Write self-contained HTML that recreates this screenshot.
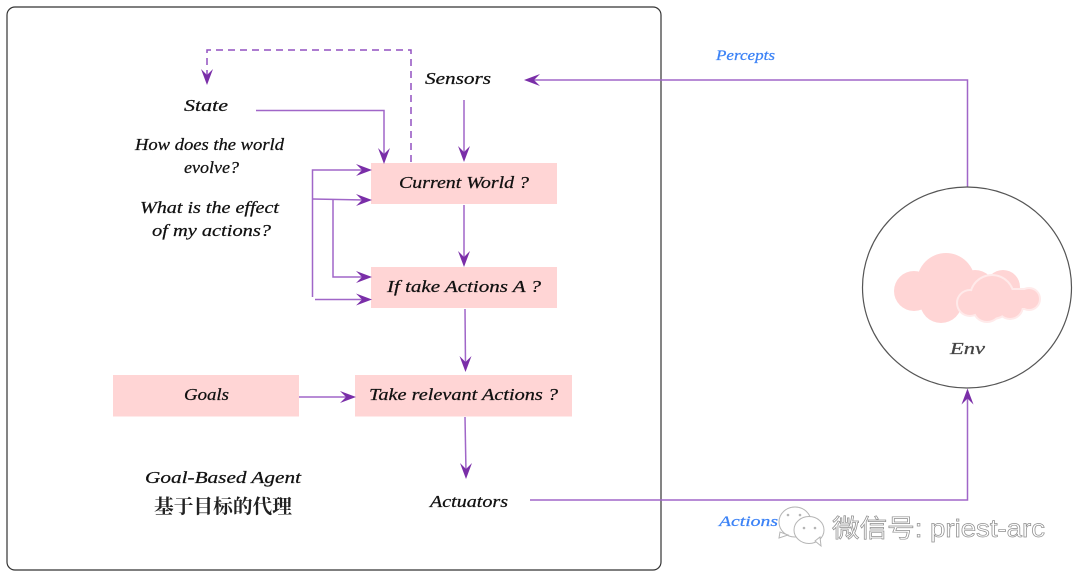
<!DOCTYPE html>
<html>
<head>
<meta charset="utf-8">
<style>
html,body{margin:0;padding:0;background:#fff;width:1080px;height:578px;overflow:hidden}
svg{display:block}
text{font-family:"Liberation Serif","Noto Serif CJK SC",serif;font-style:italic;fill:#111;stroke:#111;stroke-width:0.250;font-size:17px}
.l{fill:none;stroke:#a066c8;stroke-width:1.500}
.h{fill:#7a2ea8;stroke:none}
</style>
</head>
<body>
<svg width="1080" height="578" viewBox="0 0 1080 578" xmlns="http://www.w3.org/2000/svg">
<defs>
<path id="ah" d="M0 0L-16 -6L-10 0L-16 6Z"/>
</defs>

<rect x="7" y="7" width="654" height="563" rx="8" ry="8" fill="#fff" stroke="#333" stroke-width="1.200"/>

<rect x="371" y="163" width="186" height="41" fill="#ffd5d5"/>
<rect x="371" y="267" width="186" height="41" fill="#ffd5d5"/>
<rect x="355" y="375" width="217" height="41.500" fill="#ffd5d5"/>
<rect x="113" y="375" width="186" height="41.500" fill="#ffd5d5"/>

<path class="l" stroke="#8f45bf" style="stroke:#9250c0" stroke-dasharray="7 5" d="M411 162V50H207V78"/>
<path class="l" d="M256 110.500H384V156"/>
<path class="l" d="M464 100V155"/>
<path class="l" d="M312.500 297V170H365"/>
<path class="l" d="M312.500 199L365 200"/>
<path class="l" d="M333 199V277H365"/>
<path class="l" d="M315 299.500H365"/>
<path class="l" d="M464 205V260"/>
<path class="l" d="M465 309L465.500 365"/>
<path class="l" d="M465 417L466 472"/>
<path class="l" d="M299 397H349"/>
<path class="l" d="M530 500H967.500V396"/>
<path class="l" d="M967.500 187V80H532"/>

<use href="#ah" class="h" transform="translate(207,85) rotate(90)"/>
<use href="#ah" class="h" transform="translate(384,164) rotate(90)"/>
<use href="#ah" class="h" transform="translate(464,162) rotate(90)"/>
<use href="#ah" class="h" transform="translate(372,170)"/>
<use href="#ah" class="h" transform="translate(372,200)"/>
<use href="#ah" class="h" transform="translate(372,277)"/>
<use href="#ah" class="h" transform="translate(372,299.500)"/>
<use href="#ah" class="h" transform="translate(464,267) rotate(90)"/>
<use href="#ah" class="h" transform="translate(465.500,372) rotate(90)"/>
<use href="#ah" class="h" transform="translate(466,479) rotate(90)"/>
<use href="#ah" class="h" transform="translate(356,397)"/>
<use href="#ah" class="h" transform="translate(967.500,388.500) rotate(-90)"/>
<use href="#ah" class="h" transform="translate(524,80) rotate(180)"/>

<ellipse cx="967" cy="287.500" rx="104.500" ry="100.500" fill="#fff" stroke="#555" stroke-width="1.200"/>

<g fill="#ffd5d5" stroke="none">
<circle cx="914" cy="291" r="20"/>
<circle cx="946" cy="282" r="29"/>
<circle cx="941" cy="302" r="21"/>
<circle cx="975" cy="290" r="20"/>
<circle cx="1003" cy="287" r="17"/>
<rect x="914" y="290" width="90" height="16"/>
</g>
<g fill="#ffeaea" stroke="none">
<circle cx="992" cy="297" r="23"/>
<circle cx="970" cy="303" r="14"/>
<circle cx="1029" cy="299" r="12"/>
<circle cx="987" cy="308" r="15"/>
<circle cx="1010" cy="306" r="14"/>
<rect x="1000" y="288" width="30" height="22"/>
</g>
<g fill="#ffd5d5" stroke="none">
<circle cx="992" cy="297" r="21"/>
<circle cx="970" cy="303" r="12"/>
<circle cx="1029" cy="299" r="10"/>
<circle cx="987" cy="308" r="13"/>
<circle cx="1010" cy="306" r="12"/>
<rect x="1000" y="290" width="30" height="18"/>
</g>

<text x="184" y="111" textLength="44" lengthAdjust="spacingAndGlyphs">State</text>
<text x="135" y="150" textLength="149" lengthAdjust="spacingAndGlyphs">How does the world</text>
<text x="184" y="173" textLength="55" lengthAdjust="spacingAndGlyphs">evolve?</text>
<text x="140" y="213" textLength="139" lengthAdjust="spacingAndGlyphs">What is the effect</text>
<text x="152" y="236" textLength="119" lengthAdjust="spacingAndGlyphs">of my actions?</text>
<text x="425" y="84" textLength="66" lengthAdjust="spacingAndGlyphs">Sensors</text>
<text x="399" y="188" textLength="130" lengthAdjust="spacingAndGlyphs">Current World ?</text>
<text x="387" y="292" textLength="154" lengthAdjust="spacingAndGlyphs">If take Actions A ?</text>
<text x="369" y="400" textLength="189" lengthAdjust="spacingAndGlyphs">Take relevant Actions ?</text>
<text x="184" y="400" textLength="45" lengthAdjust="spacingAndGlyphs">Goals</text>
<text x="145" y="483" textLength="156" lengthAdjust="spacingAndGlyphs">Goal-Based Agent</text>
<text x="430" y="507" textLength="78" lengthAdjust="spacingAndGlyphs">Actuators</text>
<text x="950" y="354" textLength="35" lengthAdjust="spacingAndGlyphs" style="fill:#444;stroke:#444">Env</text>
<text x="154" y="513" textLength="138" lengthAdjust="spacingAndGlyphs" style="font-style:normal;font-weight:bold;font-size:19.500px;fill:#222;stroke:none">基于目标的代理</text>
<text x="716" y="60" textLength="59" lengthAdjust="spacingAndGlyphs" style="fill:#3b82f6;stroke:#3b82f6;font-size:15px">Percepts</text>
<text x="719" y="526" textLength="59" lengthAdjust="spacingAndGlyphs" style="fill:#3b82f6;stroke:#3b82f6;font-size:15px">Actions</text>

<g fill="#fff" stroke="#b5b5b5" stroke-width="1">
<ellipse cx="795" cy="522" rx="16" ry="15"/>
<path d="M780 532L779 538L788 535Z"/>
<ellipse cx="809" cy="530" rx="15" ry="13.500"/>
<path d="M815 541L821 546L820 537Z"/>
</g>
<g fill="#b5b5b5">
<circle cx="788" cy="515" r="1.300"/><circle cx="800" cy="515" r="1.300"/>
<circle cx="804" cy="528" r="1.300"/><circle cx="815" cy="528" r="1.300"/>
</g>
<text x="832" y="537" textLength="213" lengthAdjust="spacingAndGlyphs" style="font-family:'Liberation Sans','Noto Sans CJK SC',sans-serif;font-style:normal;font-size:25px;fill:#fff;stroke:#8f8f8f;stroke-width:0.700">微信号: priest-arc</text>
</svg>
</body>
</html>
